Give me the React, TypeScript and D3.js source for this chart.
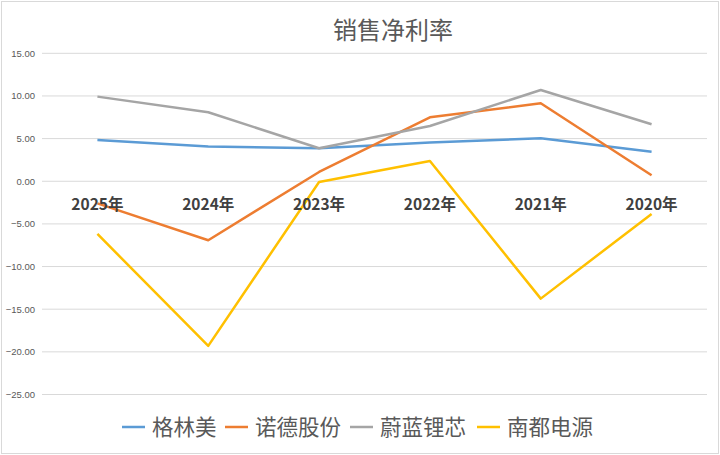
import React from "react";
import * as d3 from "d3";

const categories = ["2025年", "2024年", "2023年", "2022年", "2021年", "2020年"];
const seriesNames = ["格林美", "诺德股份", "蔚蓝锂芯", "南都电源"];
const colors = ["#5b9bd5", "#ed7d31", "#a5a5a5", "#ffc000"];
const gem = [4.84, 4.06, 3.87, 4.53, 5.04, 3.47];
const nord = [-2.6, -6.92, 1.09, 7.5, 9.14, 0.7];
const weilan = [9.92, 8.09, 3.87, 6.48, 10.7, 6.68];
const nandu = [-6.18, -19.3, -0.08, 2.38, -13.76, -3.83];
const yTicks = [15, 10, 5, 0, -5, -10, -15, -20, -25];
const title = "销售净利率";

const W = 720;
const H = 455;

export default function App() {
  const series = [gem, nord, weilan, nandu];
  const x = d3.scaleBand<string>().domain(categories).range([42, 707]);
  const y = d3.scaleLinear().domain([-25, 15]).range([394.5, 53.3]);
  const line = d3
    .line<number>()
    .x((_, i) => (x(categories[i]) as number) + x.bandwidth() / 2)
    .y((d) => y(d));
  const fmt = d3.format(".2f");
  const legendX = [122, 225, 350, 477];
  const font = "'Noto Sans CJK SC', 'Noto Sans', sans-serif";
  return (
    <svg
      width={W}
      height={H}
      style={{ position: "absolute", left: 0, top: 0, background: "#fff" }}
      fontFamily={font}
    >
      <rect x={1.5} y={1.5} width={W - 3} height={H - 3} fill="#fff" stroke="#d9d9d9" strokeWidth={1} />
      <text x={393} y={39} textAnchor="middle" fontSize={24} fill="#595959">
        {title}
      </text>
      {yTicks.map((t) => (
        <g key={t}>
          <line x1={42} x2={707} y1={y(t)} y2={y(t)} stroke="#d9d9d9" strokeWidth={1} />
          <text x={35} y={y(t)} dy="0.35em" textAnchor="end" fontSize={9.5} fill="#595959" fontFamily="'Liberation Sans', Arial, sans-serif">
            {fmt(t)}
          </text>
        </g>
      ))}
      {series.map((s, i) => (
        <path key={i} d={line(s) || ""} fill="none" stroke={colors[i]} strokeWidth={2.5} strokeLinejoin="round" />
      ))}
      {categories.map((c) => (
        <text
          key={c}
          x={(x(c) as number) + x.bandwidth() / 2}
          y={210}
          textAnchor="middle"
          fontSize={15.5}
          fontWeight="bold"
          fill="#404040"
        >
          {c}
        </text>
      ))}
      {seriesNames.map((n, i) => (
        <g key={n}>
          <line x1={legendX[i]} x2={legendX[i] + 23} y1={427} y2={427} stroke={colors[i]} strokeWidth={2.5} />
          <text x={legendX[i] + 30} y={427} dy="0.36em" fontSize={21.5} fill="#595959">
            {n}
          </text>
        </g>
      ))}
    </svg>
  );
}
